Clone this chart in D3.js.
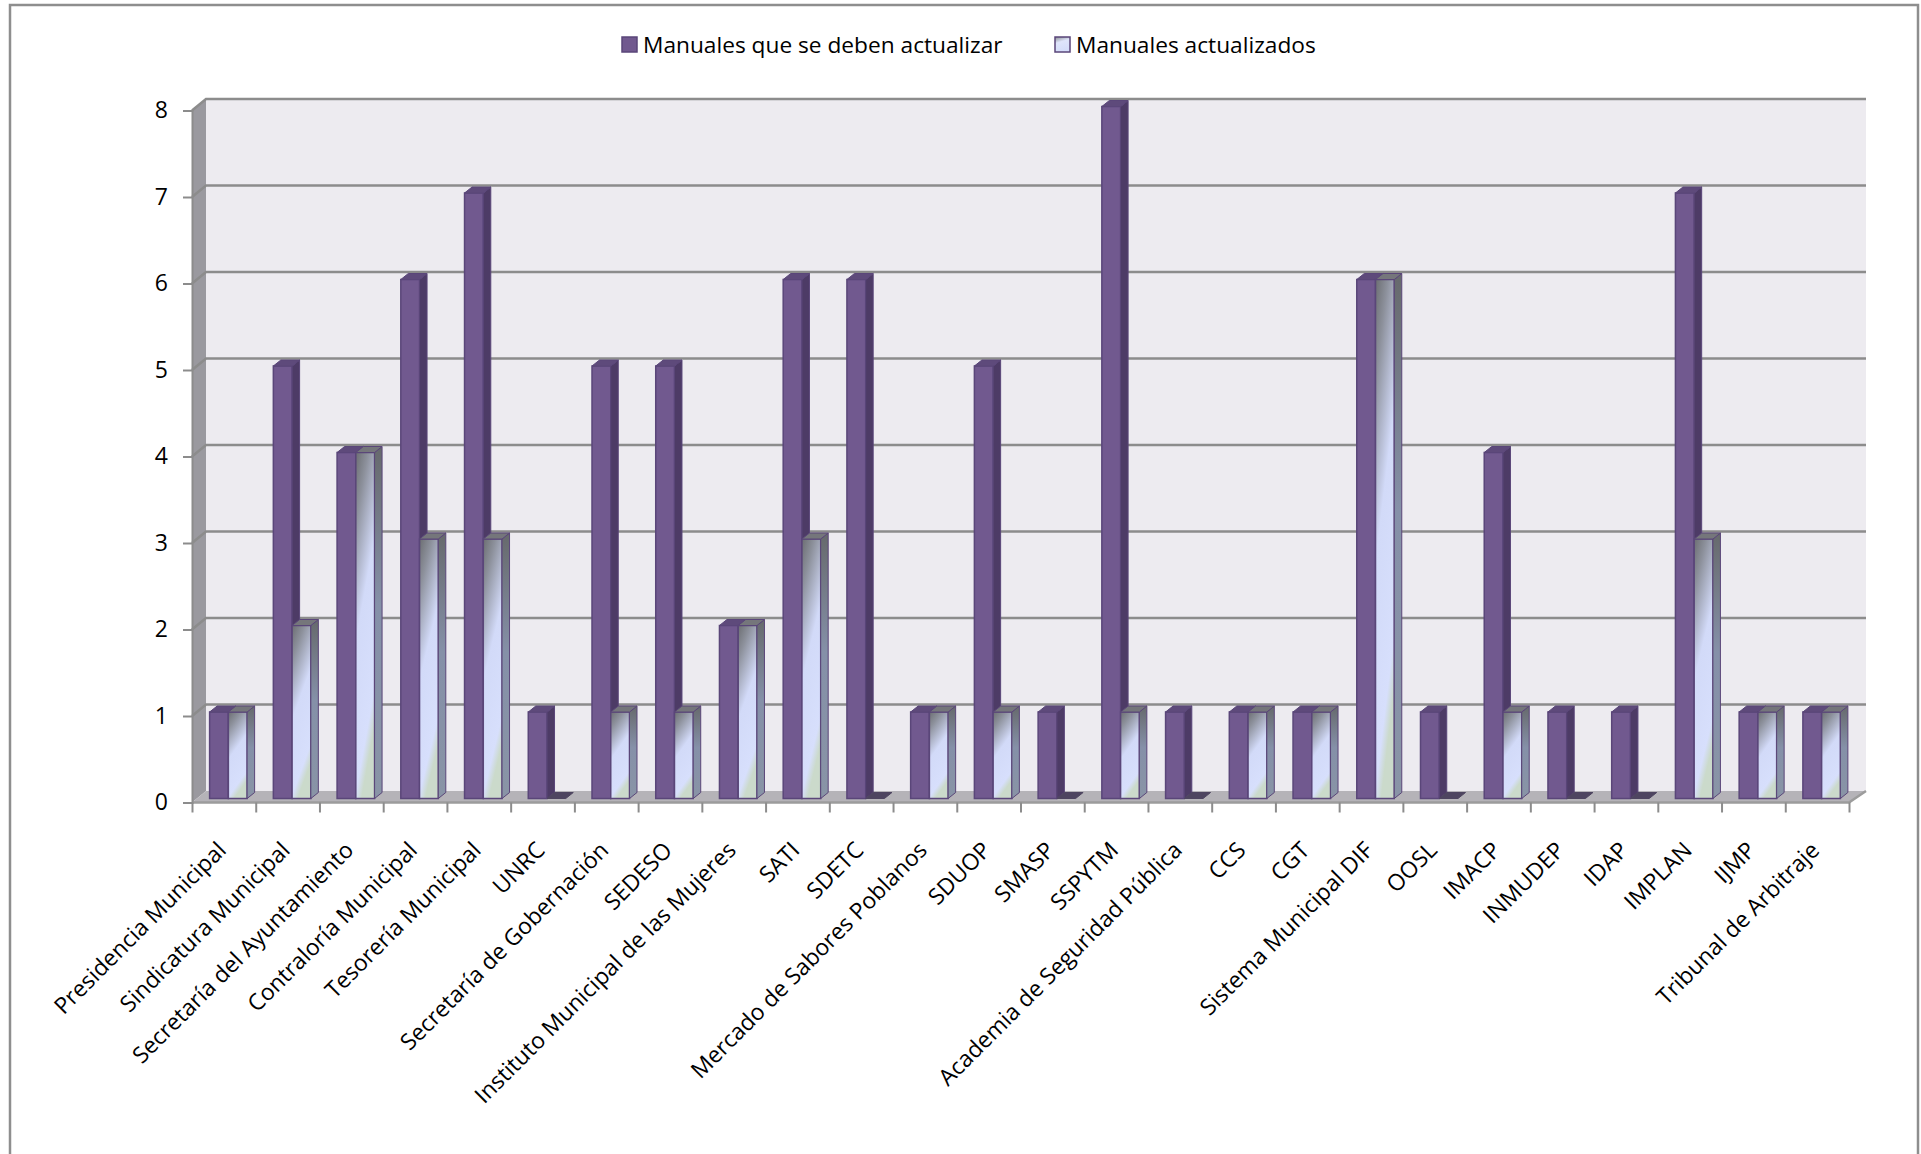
<!DOCTYPE html>
<html lang="es">
<head>
<meta charset="UTF-8">
<title>Manuales por dependencia</title>
<script src="https://d3js.org/d3.v7.min.js"></script>
<style>
  html, body { margin: 0; padding: 0; background: #fff; }
  svg { display: block; font-family: "Open Sans", "Noto Sans", sans-serif; }
</style>
</head>
<body>
<script>
// data
const categories = [
  "Presidencia Municipal", "Sindicatura Municipal", "Secretaría del Ayuntamiento",
  "Contraloría Municipal", "Tesorería Municipal", "UNRC", "Secretaría de Gobernación",
  "SEDESO", "Instituto Municipal de las Mujeres", "SATI", "SDETC",
  "Mercado de Sabores Poblanos", "SDUOP", "SMASP", "SSPYTM",
  "Academia de Seguridad Pública", "CCS", "CGT", "Sistema Municipal DIF", "OOSL",
  "IMACP", "INMUDEP", "IDAP", "IMPLAN", "IJMP", "Tribunal de Arbitraje"
];
const seriesNames = ["Manuales que se deben actualizar", "Manuales actualizados"];
const porActualizar = [1, 5, 4, 6, 7, 1, 5, 5, 2, 6, 6, 1, 5, 1, 8, 1, 1, 1, 6, 1, 4, 1, 1, 7, 1, 1];
const actualizados  = [1, 2, 4, 3, 3, 0, 1, 1, 2, 3, 0, 1, 1, 0, 1, 0, 1, 1, 6, 0, 1, 0, 0, 3, 1, 1];
const yTicks = [0, 1, 2, 3, 4, 5, 6, 7, 8];

const width = 1921, height = 1154;

// plot frame (front edge, back wall offset)
const frontLeft = 192, frontRight = 1849;
const backLeft = 206, backRight = 1866;
const barDx = 7.5, barDy = -6;
const groupShift = 4.5;

const svg = d3.select("body").append("svg")
  .attr("width", width)
  .attr("height", height)
  .attr("viewBox", [0, 0, width, height]);

const defs = svg.append("defs");

const lightGrad = defs.append("linearGradient")
  .attr("id", "lightFront")
  .attr("x1", 0).attr("y1", 0).attr("x2", 0.3).attr("y2", 1);
[[0, "#6c6e72"], [0.18, "#8d919c"], [0.5, "#d2daf8"], [0.9, "#d7dffc"], [1, "#cbdacb"]]
  .forEach(([o, c]) => lightGrad.append("stop").attr("offset", o).attr("stop-color", c));

const sideGrad = defs.append("linearGradient")
  .attr("id", "lightSide")
  .attr("x1", 0).attr("y1", 0).attr("x2", 0).attr("y2", 1);
[[0, "#66696c"], [0.45, "#8590a8"], [1, "#8994a6"]]
  .forEach(([o, c]) => sideGrad.append("stop").attr("offset", o).attr("stop-color", c));

const legendGrad = defs.append("linearGradient")
  .attr("id", "legendLight")
  .attr("x1", 0).attr("y1", 0).attr("x2", 0.3).attr("y2", 1);
[[0, "#8a8c92"], [0.4, "#dfe5fb"], [1, "#d5ddfa"]]
  .forEach(([o, c]) => legendGrad.append("stop").attr("offset", o).attr("stop-color", c));

// scales
const yFront = d3.scaleLinear().domain([0, 8]).range([802.5, 110.5]);
const yBack = d3.scaleLinear().domain([0, 8]).range([791, 99]);
const yBar = d3.scaleLinear().domain([0, 8]).range([798.5, 106.5]);

const x0 = d3.scaleBand().domain(categories).range([frontLeft, frontRight]);
const groupW = 37.5;
const x1 = d3.scaleBand().domain(seriesNames).range([0, groupW]);
const xIdx = d3.scaleLinear().domain([0, categories.length]).range([frontLeft, frontRight]);

// outer border
svg.append("rect")
  .attr("x", 10).attr("y", 5)
  .attr("width", 1908).attr("height", 1200)
  .attr("fill", "#fff")
  .attr("stroke", "#8e8e8e")
  .attr("stroke-width", 2.5);

// back wall
svg.append("rect")
  .attr("x", backLeft).attr("y", yBack(8))
  .attr("width", backRight - backLeft).attr("height", yBack(0) - yBack(8))
  .attr("fill", "#edebf0");

// side wall
svg.append("polygon")
  .attr("points", [
    [frontLeft, yFront(0)], [frontLeft, yFront(8)],
    [backLeft, yBack(8)], [backLeft, yBack(0)]
  ].join(" "))
  .attr("fill", "#9a999f");

// floor
svg.append("polygon")
  .attr("points", [
    [frontLeft, yFront(0)], [frontRight, yFront(0)],
    [backRight, yBack(0)], [backLeft, yBack(0)]
  ].join(" "))
  .attr("fill", "#b5b3b8");

// gridlines on back wall and across the side wall
const grid = svg.append("g")
  .attr("stroke", "#8c8c8c")
  .attr("stroke-width", 2.5)
  .attr("fill", "none");
grid.selectAll("path")
  .data(yTicks.filter(d => d > 0))
  .join("path")
  .attr("d", d => `M${frontLeft},${yFront(d)}L${backLeft},${yBack(d)}H${backRight}`);

// floor front edge
svg.append("path")
  .attr("d", `M${frontLeft},${yFront(0)}H${frontRight}L${backRight},${yBack(0)}`)
  .attr("stroke", "#9c9c9c")
  .attr("stroke-width", 2.5)
  .attr("fill", "none");

// y axis
const yAxis = svg.append("g")
  .attr("transform", `translate(${frontLeft},0)`)
  .call(d3.axisLeft(yFront).tickValues(yTicks).tickSize(9).tickPadding(15).tickFormat(d3.format("d")));
yAxis.select(".domain").attr("stroke", "#8c8c8c").attr("stroke-width", 2);
yAxis.selectAll(".tick line").attr("stroke", "#8c8c8c").attr("stroke-width", 2);
yAxis.selectAll(".tick text")
  .attr("fill", "#000")
  .style("font-size", "23px")
  .style("font-family", "\"Open Sans\", sans-serif");

// x axis tick marks at category boundaries
const xAxis = svg.append("g")
  .attr("transform", `translate(0,${yFront(0)})`)
  .call(d3.axisBottom(xIdx).tickValues(d3.range(categories.length + 1)).tickSize(10).tickFormat(""));
xAxis.select(".domain").remove();
xAxis.selectAll(".tick line").attr("stroke", "#8c8c8c").attr("stroke-width", 2);

// x labels
svg.append("g")
  .selectAll("text")
  .data(categories)
  .join("text")
  .attr("transform", d => `translate(${x0(d) + x0.bandwidth() / 2 - 8},840) rotate(-45)`)
  .attr("text-anchor", "end")
  .attr("dy", "0.72em")
  .attr("fill", "#000")
  .style("font-size", "22.8px")
  .text(d => d);

// bars
const rows = categories.map((c, i) => ({
  cat: c,
  vals: [
    { key: seriesNames[0], v: porActualizar[i] },
    { key: seriesNames[1], v: actualizados[i] }
  ]
}));

const style = {
  [seriesNames[0]]: { front: "#71598f", side: "#4d3b66", top: "#5e4a7b" },
  [seriesNames[1]]: { front: "url(#lightFront)", side: "url(#lightSide)", top: "#75767b" }
};
const outline = "#5a4679";

const groups = svg.append("g")
  .selectAll("g")
  .data(rows)
  .join("g")
  .attr("transform", d => `translate(${x0(d.cat) + (x0.bandwidth() - groupW) / 2 + groupShift},0)`);

groups.each(function (row) {
  const g = d3.select(this);
  row.vals.forEach(b => {
    const x = x1(b.key), w = x1.bandwidth();
    const yb = yBar(0), yt = yBar(b.v);
    const s = style[b.key];
    if (b.v === 0) {
      g.append("polygon")
        .attr("points", [[x, yb], [x + barDx, yb + barDy], [x + w + barDx, yb + barDy], [x + w, yb]].join(" "))
        .attr("fill", "#4e4560")
        .attr("stroke", "#4e4560")
        .attr("stroke-width", 1);
      return;
    }
    g.append("rect")
      .attr("x", x).attr("y", yt)
      .attr("width", w).attr("height", yb - yt)
      .attr("fill", s.front)
      .attr("stroke", outline).attr("stroke-width", 1.5);
    g.append("polygon")
      .attr("points", [[x + w, yb], [x + w + barDx, yb + barDy], [x + w + barDx, yt + barDy], [x + w, yt]].join(" "))
      .attr("fill", s.side)
      .attr("stroke", outline).attr("stroke-width", 1);
    g.append("polygon")
      .attr("points", [[x, yt], [x + barDx, yt + barDy], [x + w + barDx, yt + barDy], [x + w, yt]].join(" "))
      .attr("fill", s.top)
      .attr("stroke", outline).attr("stroke-width", 1);
  });
});

// legend
const legendItems = [
  { name: seriesNames[0], x: 622, fill: "#71598f" },
  { name: seriesNames[1], x: 1055, fill: "url(#legendLight)" }
];
const legend = svg.append("g")
  .selectAll("g")
  .data(legendItems)
  .join("g")
  .attr("transform", d => `translate(${d.x},37)`);
legend.append("rect")
  .attr("width", 15).attr("height", 15)
  .attr("fill", d => d.fill)
  .attr("stroke", outline).attr("stroke-width", 1.5);
legend.append("text")
  .attr("x", 21).attr("y", 8)
  .attr("dy", "0.36em")
  .attr("fill", "#000")
  .style("font-size", "22.7px")
  .text(d => d.name);
</script>
</body>
</html>
